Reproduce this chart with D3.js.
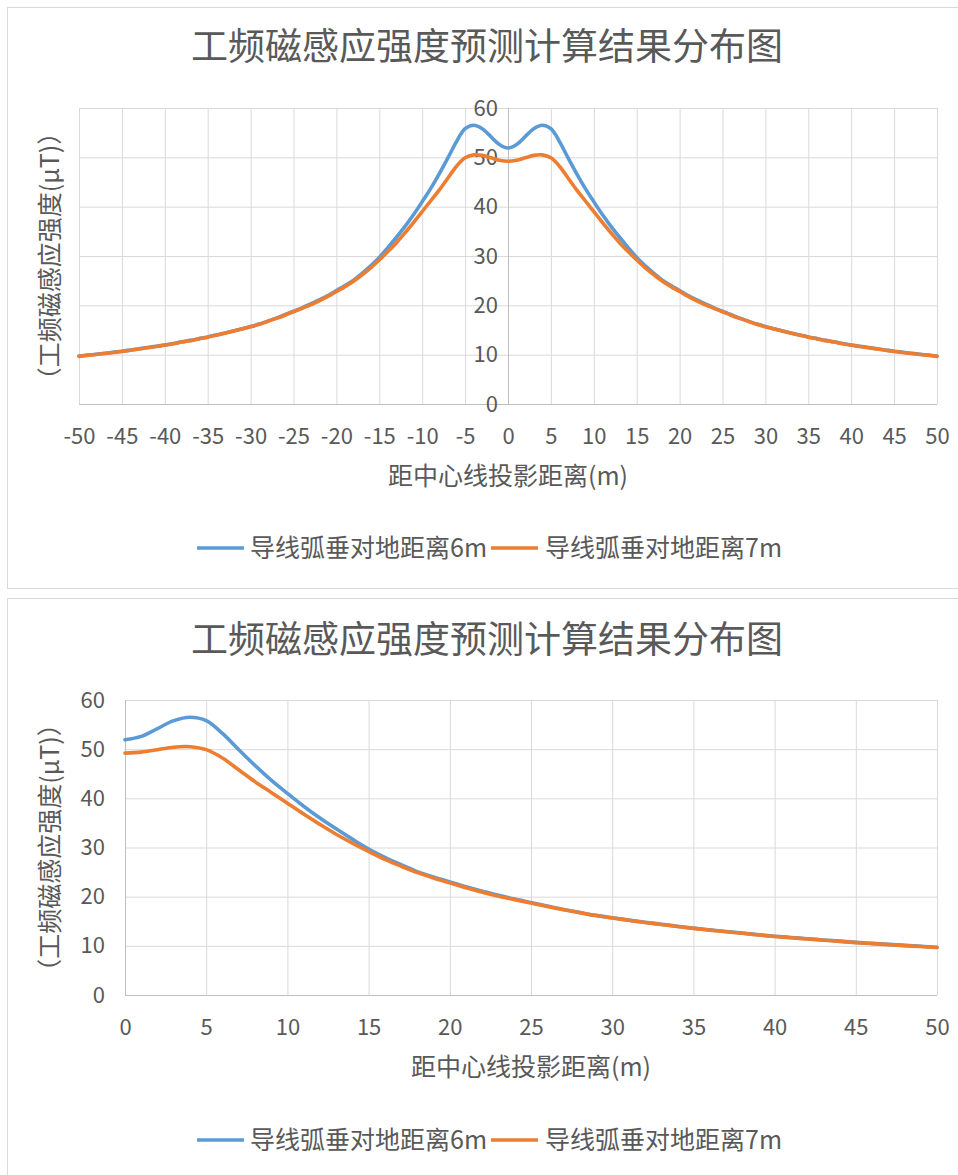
<!DOCTYPE html>
<html><head><meta charset="utf-8">
<script src="https://cdn.jsdelivr.net/npm/d3@7"></script>
<style>
html,body{margin:0;padding:0;background:#fff;}
svg text{font-family:"Noto Sans CJK SC","Noto Sans",sans-serif;fill:#595959;}
</style></head>
<body>
<svg id="c" width="958" height="1175"></svg>
<script>
const titleText = "工频磁感应强度预测计算结果分布图";
const xTitle = "距中心线投影距离(m)";
const yTitle = "（工频磁感应强度(μT)）";
const seriesNames = ["导线弧垂对地距离6m", "导线弧垂对地距离7m"];
const seriesColors = ["#5b9bd5", "#ed7d31"];

// distance from centre line (m), one side
const distances = [0,1,2,3,4,5,6,7,8,9,10,11,12,13,14,15,16,17,18,19,20,21,22,23,24,25,26,27,28,29,30,31,32,33,34,35,36,37,38,39,40,41,42,43,44,45,46,47,48,49,50];
// sag height 6m (μT)
const values6m = [51.9,52.6,54.2,55.8,56.5,55.8,53.2,49.9,46.7,43.7,41.0,38.4,36.0,33.8,31.7,29.7,28.0,26.5,25.1,24.0,23.0,22.0,21.1,20.3,19.5,18.8,18.1,17.4,16.8,16.2,15.7,15.25,14.8,14.4,14.0,13.6,13.25,12.9,12.6,12.25,11.95,11.7,11.45,11.2,10.95,10.7,10.5,10.3,10.1,9.9,9.7];
// sag height 7m (μT)
const values7m = [49.2,49.4,49.9,50.4,50.5,49.9,48.2,45.8,43.4,41.2,39.0,36.8,34.7,32.7,30.9,29.2,27.6,26.2,24.9,23.8,22.8,21.8,20.9,20.1,19.4,18.7,18.0,17.35,16.75,16.15,15.65,15.2,14.75,14.35,13.95,13.55,13.2,12.85,12.55,12.2,11.9,11.65,11.4,11.15,10.9,10.65,10.45,10.25,10.05,9.85,9.65];

const xTicksFull = [-50,-45,-40,-35,-30,-25,-20,-15,-10,-5,0,5,10,15,20,25,30,35,40,45,50];
const xTicksHalf = [0,5,10,15,20,25,30,35,40,45,50];
const yTicks = [0,10,20,30,40,50,60];

const svg = d3.select("#c");

function mirrored(vals){
  const pts = [];
  for (let i = distances.length-1; i > 0; i--) pts.push([-distances[i], vals[i]]);
  for (let i = 0; i < distances.length; i++) pts.push([distances[i], vals[i]]);
  return pts;
}
function half(vals){ return distances.map((d,i)=>[d, vals[i]]); }

function drawChart(cfg){
  const g = svg.append("g");
  g.append("rect").attr("x", cfg.box[0]+0.5).attr("y", cfg.box[1]+0.5)
    .attr("width", cfg.box[2]).attr("height", cfg.box[3])
    .attr("fill","#fff").attr("stroke","#d9d9d9").attr("stroke-width",1);

  const x = d3.scaleLinear().domain(cfg.xDomain).range([cfg.plot[0], cfg.plot[1]]);
  const y = d3.scaleLinear().domain([0,60]).range([cfg.plot[3], cfg.plot[2]]);

  const grid = g.append("g");
  grid.append("g").attr("transform",`translate(0,${cfg.plot[3]})`)
    .call(d3.axisBottom(x).tickValues(cfg.xTicks).tickSize(-(cfg.plot[3]-cfg.plot[2])).tickFormat(""))
    .call(s=>s.select(".domain").remove())
    .call(s=>s.selectAll("line").attr("stroke","#d9d9d9"));
  grid.append("g").attr("transform",`translate(${cfg.plot[0]},0)`)
    .call(d3.axisLeft(y).tickValues(yTicks).tickSize(-(cfg.plot[1]-cfg.plot[0])).tickFormat(""))
    .call(s=>s.select(".domain").remove())
    .call(s=>s.selectAll("line").attr("stroke","#d9d9d9"));
  g.append("line").attr("x1",cfg.plot[0]).attr("x2",cfg.plot[1])
    .attr("y1",y(0)+0.5).attr("y2",y(0)+0.5).attr("stroke","#bfbfbf");
  g.append("line").attr("x1",x(0)+0.5).attr("x2",x(0)+0.5)
    .attr("y1",cfg.plot[2]).attr("y2",cfg.plot[3]).attr("stroke","#bfbfbf");

  g.append("g").attr("transform",`translate(0,${cfg.plot[3]})`)
    .call(d3.axisBottom(x).tickValues(cfg.xTicks).tickSize(0).tickPadding(0).tickFormat(d=>String(d)))
    .call(s=>s.select(".domain").remove())
    .call(s=>s.selectAll("text").attr("y",32).attr("dy","0.35em")
      .style("font-size","22px").attr("fill","#595959"));
  g.append("g").attr("transform",`translate(${x(0)},0)`)
    .call(d3.axisLeft(y).tickValues(yTicks).tickSize(0).tickPadding(cfg.yPad).tickFormat(d=>String(d)))
    .call(s=>s.select(".domain").remove())
    .call(s=>s.selectAll("text").style("font-size","22px").attr("fill","#595959"));

  const line = d3.line().x(d=>x(d[0])).y(d=>y(d[1])).curve(d3.curveCatmullRom.alpha(0.5));
  cfg.series.forEach((pts,i)=>{
    g.append("path").datum(pts).attr("d",line).attr("fill","none")
      .attr("stroke",seriesColors[i]).attr("stroke-width",3.6)
      .attr("stroke-linejoin","round").attr("stroke-linecap","round");
  });

  g.append("text").attr("x",cfg.titleX).attr("y",cfg.titleY).attr("text-anchor","middle")
    .attr("dy","0.35em").style("font-size","37px").text(titleText);
  g.append("text").attr("x",(cfg.plot[0]+cfg.plot[1])/2).attr("y",cfg.plot[3]+72)
    .attr("text-anchor","middle").attr("dy","0.35em").style("font-size","25px").text(xTitle);
  g.append("text").attr("transform",`translate(${cfg.yTitleX},${(cfg.plot[2]+cfg.plot[3])/2}) rotate(-90)`)
    .attr("text-anchor","middle").attr("dy","0.35em").style("font-size","25px").text(yTitle);

  const lg = g.append("g").attr("transform",`translate(0,${cfg.legendY})`);
  const items = [[197,250],[491,545]];
  seriesNames.forEach((n,i)=>{
    lg.append("line").attr("x1",items[i][0]).attr("x2",items[i][0]+47)
      .attr("stroke",seriesColors[i]).attr("stroke-width",3.6);
    lg.append("text").attr("x",items[i][1]).attr("dy","0.35em")
      .style("font-size","25px").text(n);
  });
}

drawChart({
  box:[7,7,951,581], plot:[79,937,108,404], xDomain:[-50,50], xTicks:xTicksFull,
  series:[mirrored(values6m), mirrored(values7m)], yPad:10, titleX:487, titleY:47,
  yTitleX:50, legendY:548
});
drawChart({
  box:[7,598,951,590], plot:[125,937,700,995], xDomain:[0,50], xTicks:xTicksHalf,
  series:[half(values6m), half(values7m)], yPad:20, titleX:487, titleY:640,
  yTitleX:50, legendY:1140
});
</script>
</body></html>
